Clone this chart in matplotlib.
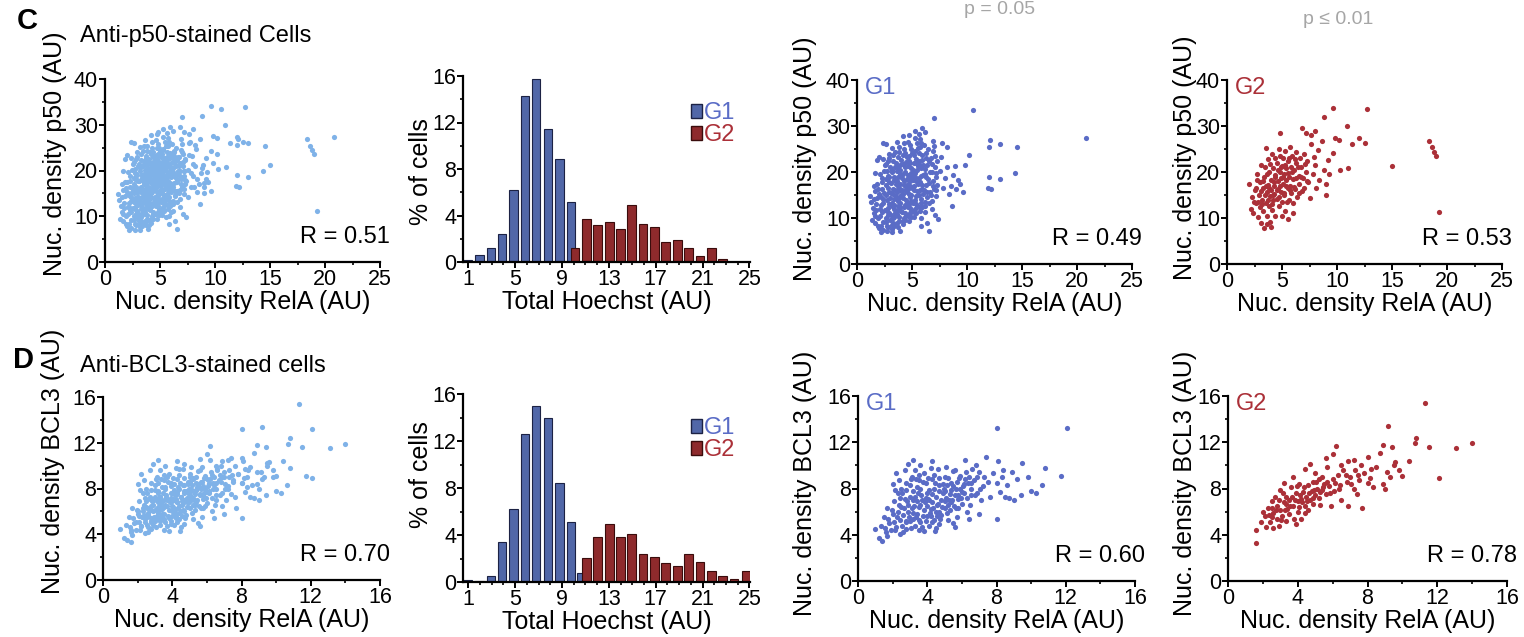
import numpy as np
import matplotlib
matplotlib.use("Agg")
import matplotlib.pyplot as plt
from matplotlib.patches import Patch
from matplotlib.ticker import MultipleLocator

plt.rcParams['font.family'] = ['Liberation Sans', 'DejaVu Sans']

# ---- colours
ALL_C = '#7fb2e8'
G1_C = '#5a6cc6'
G2_C = '#ab3038'
BAR_G1 = '#5167a8'
BAR_G2 = '#8e2a2c'

# ---- row C: p50 vs RelA, single cells (x = RelA, y = p50)
p50_g1 = [
    (1.3, 13.5), (1.5, 11), (1.6, 15.8), (1.4, 9.5), (1.7, 13), (1.8, 17.5), (1.2, 14.8), (1.9, 8.2), (1.6, 10.4),
    (2.0, 7.8), (2.1, 10.5), (2.2, 12.8), (2.0, 15.2), (2.3, 17.8), (2.1, 19.6), (2.4, 9.1), (2.4, 14.1),
    (2.5, 21.5), (2.2, 6.9), (2.5, 11.7), (2.3, 16.3), (2.0, 23.3),
    (2.7, 8.3), (2.6, 10.0), (2.8, 12.2), (2.7, 13.9), (2.9, 15.6), (2.6, 17.1), (2.8, 19.2), (3.0, 21.0),
    (2.9, 24.0), (2.7, 7.1), (3.0, 9.6), (2.9, 11.1), (2.6, 18.4), (3.0, 14.3), (2.8, 22.5), (2.6, 26.0),
    (3.2, 7.6), (3.3, 9.0), (3.1, 10.6), (3.4, 12.0), (3.2, 13.3), (3.5, 14.8), (3.3, 16.2), (3.1, 17.7),
    (3.4, 19.0), (3.2, 20.5), (3.5, 22.0), (3.3, 23.6), (3.4, 8.3), (3.5, 11.2), (3.1, 15.5), (3.5, 17.4),
    (3.2, 25.2), (3.4, 10.2),
    (3.7, 8.0), (3.8, 9.4), (3.6, 10.9), (3.9, 12.4), (3.7, 13.6), (4.0, 15.0), (3.8, 16.6), (3.6, 18.1),
    (3.9, 19.5), (3.7, 21.1), (4.0, 22.6), (3.8, 24.3), (3.9, 7.2), (3.6, 14.4), (4.0, 11.6), (3.7, 17.0),
    (3.9, 20.4), (3.6, 26.6),
    (4.2, 8.6), (4.3, 10.1), (4.1, 11.4), (4.4, 12.9), (4.2, 14.3), (4.5, 15.7), (4.3, 17.2), (4.1, 18.7),
    (4.4, 20.1), (4.2, 21.7), (4.5, 23.2), (4.3, 25.0), (4.4, 9.5), (4.1, 16.1), (4.5, 18.4), (4.2, 27.8),
    (4.5, 13.5),
    (4.7, 9.3), (4.8, 11.0), (4.6, 12.3), (4.9, 13.8), (4.7, 15.2), (5.0, 16.6), (4.8, 18.0), (4.6, 19.4),
    (4.9, 20.9), (4.7, 22.5), (5.0, 24.2), (4.8, 25.9), (4.9, 10.2), (4.6, 17.3), (5.0, 19.1), (4.8, 14.6),
    (4.7, 28.0),
    (5.2, 10.3), (5.3, 12.0), (5.1, 13.2), (5.4, 14.7), (5.2, 16.0), (5.5, 17.5), (5.3, 19.0), (5.1, 20.5),
    (5.4, 22.0), (5.2, 23.6), (5.5, 25.3), (5.3, 27.4), (5.4, 11.1), (5.1, 18.2), (5.5, 21.2), (5.3, 29.0),
    (5.7, 11.5), (5.8, 13.3), (5.6, 14.9), (5.9, 16.4), (5.7, 17.8), (6.0, 19.3), (5.8, 20.8), (5.6, 22.3),
    (5.9, 23.8), (5.7, 25.4), (6.0, 15.2), (5.8, 10.0), (5.6, 28.2), (6.0, 21.6),
    (6.2, 12.6), (6.4, 14.5), (6.1, 16.1), (6.5, 17.6), (6.3, 19.0), (6.2, 20.6), (6.5, 22.4), (6.3, 24.1),
    (6.1, 25.8), (6.6, 15.6), (6.4, 9.0), (6.6, 20.0),
    (6.8, 13.8), (7.0, 16.2), (6.9, 18.1), (7.2, 19.8), (6.8, 21.7), (7.1, 23.5), (7.0, 25.7), (7.3, 17.1),
    (6.9, 26.8), (7.2, 14.8), (7.0, 31.8),
    (7.5, 20.2), (7.8, 16.5), (8.0, 18.8), (7.6, 23.3), (8.2, 21.0), (8.5, 17.0), (8.7, 19.4), (9.0, 16.3),
    (9.2, 18.2), (8.4, 15.2), (8.9, 21.3), (7.7, 26.3), (8.2, 25.5), (8.6, 12.7), (7.4, 9.8), (6.5, 7.2),
    (7.1, 10.6), (9.4, 17.4), (9.6, 15.6), (9.8, 21.6), (10.2, 23.6), (10.5, 33.5), (12.0, 25.5), (12.1, 26.9),
    (13.0, 26.0), (14.5, 25.4), (12.0, 19.0), (13.0, 18.5), (14.4, 19.8), (11.9, 16.6), (12.2, 16.4),
    (20.8, 27.3), (5.8, 8.3), (1.6, 19.8), (1.8, 22.6), (2.4, 26.2), (6.2, 28.7), (5.9, 29.5),
    # dense core
    (1.45, 12.2), (1.55, 14.2), (1.75, 11.8), (1.85, 14.4), (1.9, 16.2), (1.65, 9.0), (1.95, 10.0), (1.5, 17.0),
    (2.15, 8.3), (2.25, 11.3), (2.35, 13.3), (2.15, 14.6), (2.45, 15.4), (2.25, 18.7), (2.45, 20.2), (2.35, 7.5),
    (2.05, 12.0), (2.4, 22.8),
    (2.65, 9.2), (2.85, 10.6), (2.75, 11.6), (2.95, 13.1), (2.65, 15.0), (2.85, 16.5), (2.95, 17.9), (2.75, 20.3),
    (2.95, 19.0), (2.65, 21.8), (2.85, 8.0), (2.95, 23.0),
    (3.15, 8.4), (3.25, 9.9), (3.45, 11.0), (3.15, 12.7), (3.35, 14.1), (3.25, 15.3), (3.45, 16.0), (3.35, 18.3),
    (3.15, 19.9), (3.45, 21.1), (3.25, 22.4), (3.45, 24.3), (3.35, 12.8), (3.15, 6.9),
    (3.65, 9.0), (3.85, 10.2), (3.75, 11.8), (3.95, 13.3), (3.65, 15.6), (3.85, 14.4), (3.95, 17.5), (3.75, 18.9),
    (3.65, 20.2), (3.95, 21.5), (3.75, 23.2), (3.85, 25.4), (3.95, 16.1), (3.75, 12.6),
    (4.15, 9.3), (4.35, 11.0), (4.25, 12.3), (4.45, 14.0), (4.15, 15.2), (4.35, 16.1), (4.45, 17.0), (4.25, 18.0),
    (4.15, 19.6), (4.35, 21.0), (4.45, 22.1), (4.15, 23.7), (4.35, 24.1), (4.25, 26.2), (4.45, 10.6),
    (4.65, 10.5), (4.85, 12.2), (4.75, 13.0), (4.95, 14.9), (4.65, 16.3), (4.85, 16.9), (4.75, 18.8), (4.95, 19.8),
    (4.65, 21.4), (4.85, 22.0), (4.75, 23.4), (4.95, 25.0), (4.65, 26.6), (4.95, 11.6),
    (5.15, 11.2), (5.35, 13.0), (5.25, 14.0), (5.45, 15.9), (5.15, 17.0), (5.35, 18.0), (5.25, 19.8), (5.45, 20.4),
    (5.15, 21.9), (5.35, 22.8), (5.25, 24.6), (5.45, 26.2), (5.45, 12.6),
    (5.65, 12.4), (5.85, 14.1), (5.75, 16.1), (5.95, 17.2), (5.65, 18.6), (5.85, 19.2), (5.75, 21.5), (5.95, 22.7),
    (5.65, 24.1), (5.85, 26.3), (5.95, 12.3), (5.75, 27.2),
    (6.15, 13.4), (6.35, 15.6), (6.25, 17.2), (6.45, 18.4), (6.15, 19.6), (6.35, 21.5), (6.25, 23.1), (6.45, 25.0),
    (6.55, 13.2), (6.15, 11.2),
    (6.75, 15.0), (6.95, 17.0), (7.15, 18.9), (6.85, 19.9), (7.05, 21.0), (6.75, 23.0), (7.25, 22.3), (6.95, 24.5),
    (7.15, 16.0), (6.85, 12.0),
]

p50_g2 = [
    (2.0, 17.5), (2.2, 12.0), (2.3, 14.5), (2.4, 11.0), (2.5, 16.0), (2.6, 13.2), (2.7, 19.5), (2.8, 10.2),
    (2.9, 15.0), (3.0, 12.4), (3.0, 17.8), (3.1, 9.0), (3.1, 21.5), (3.2, 14.0), (3.3, 16.5), (3.3, 11.5),
    (3.4, 7.8), (3.4, 19.0), (3.5, 13.3), (3.5, 25.3), (3.6, 15.7), (3.6, 10.5), (3.7, 17.2), (3.7, 22.8),
    (3.8, 12.6), (3.8, 20.0), (3.9, 14.8), (3.9, 9.2), (4.0, 18.3), (4.0, 16.0), (4.1, 24.0), (4.1, 11.8),
    (4.2, 13.9), (4.2, 20.8), (4.3, 17.0), (4.3, 15.2), (4.4, 19.3), (4.4, 10.4), (4.5, 22.0), (4.5, 14.2),
    (4.6, 18.0), (4.6, 16.4), (4.7, 12.6), (4.7, 25.0), (4.8, 20.0), (4.8, 28.5), (4.9, 15.6), (4.9, 18.8),
    (5.0, 21.4), (5.0, 13.4), (5.1, 17.5), (5.1, 23.0), (5.2, 19.5), (5.2, 15.0), (5.3, 11.5), (5.3, 24.5),
    (5.4, 18.2), (5.4, 20.8), (5.5, 16.5), (5.5, 22.3), (5.6, 14.0), (5.6, 19.0), (5.7, 25.5), (5.7, 17.0),
    (5.8, 21.0), (5.8, 15.5), (5.9, 23.5), (6.0, 18.5), (6.0, 13.2), (6.1, 20.5), (6.2, 16.3), (6.3, 22.0),
    (6.3, 24.3), (6.4, 14.6), (6.5, 19.2), (6.5, 17.4), (6.6, 23.0), (6.7, 21.0), (6.8, 15.8), (6.9, 18.6),
    (7.0, 24.0), (7.0, 16.5), (7.2, 20.0), (7.3, 22.5), (7.4, 17.8), (7.5, 14.3), (7.6, 26.0), (7.8, 19.5),
    (7.9, 23.2), (8.0, 21.5), (8.1, 16.5), (8.3, 24.8), (8.4, 18.2), (8.6, 26.8), (8.8, 20.5), (9.0, 17.3),
    (9.0, 15.0), (9.2, 22.7), (9.3, 19.6), (9.6, 24.2), (9.8, 27.5),
    (5.0, 10.5), (5.5, 9.8), (4.0, 8.0), (3.6, 8.6), (6.0, 11.0), (7.2, 28.5), (8.0, 29.0), (8.8, 32.0),
    (9.6, 34.0), (10.9, 30.0), (10.2, 27.0), (11.4, 26.0), (12.0, 27.3), (12.5, 26.2), (12.7, 33.8),
    (10.3, 20.4), (11.0, 20.8), (15.0, 21.3), (18.4, 26.8), (18.6, 25.4), (18.8, 24.4), (19.0, 23.5),
    (19.3, 11.2), (7.6, 28.0), (6.8, 29.5),
    (3.15, 13.0), (3.45, 15.0), (3.25, 18.0), (3.55, 17.0), (3.45, 21.0), (3.75, 14.0), (3.85, 16.5), (3.65, 19.5),
    (3.95, 21.8), (4.05, 13.0), (4.15, 15.0), (4.25, 17.8), (4.35, 19.0), (4.35, 23.0), (4.55, 16.0), (4.65, 20.5),
    (4.75, 14.5), (4.85, 17.0), (4.95, 21.0), (4.85, 23.5), (5.05, 19.0), (5.15, 15.5), (5.25, 21.5), (5.35, 17.0),
    (5.45, 13.5), (5.55, 19.8), (5.65, 23.0), (5.75, 16.0), (5.95, 20.0), (6.05, 16.8), (6.15, 22.8), (6.25, 18.8),
    (6.45, 21.0), (6.55, 15.5), (6.75, 19.0), (7.05, 21.8), (7.25, 18.0), (2.65, 16.5), (2.85, 13.5), (3.05, 15.8),
    (2.45, 13.5), (2.75, 18.2),
]

# ---- row D: BCL3 vs RelA
bcl3_g1 = [
    (1.0, 4.5), (1.2, 3.7), (1.4, 3.5), (1.3, 4.8), (1.5, 5.5), (1.6, 4.2), (1.7, 6.3), (1.8, 5.0), (1.9, 4.4),
    (1.7, 3.9), (2.0, 5.8), (2.1, 6.9), (2.2, 4.7), (2.3, 7.6), (2.4, 5.3), (2.0, 8.4), (2.5, 6.4), (2.2, 9.3),
    (2.4, 4.1), (2.1, 5.1), (2.3, 6.0), (2.5, 8.0),
    (2.6, 5.7), (2.7, 7.1), (2.8, 4.5), (2.9, 6.6), (3.0, 8.3), (2.7, 9.6), (2.6, 4.2), (3.0, 5.2), (2.8, 7.9),
    (2.9, 6.0), (3.0, 7.3), (2.8, 5.1),
    (3.1, 6.3), (3.2, 7.8), (3.3, 4.8), (3.4, 5.8), (3.5, 8.7), (3.2, 10.5), (3.1, 9.0), (3.4, 6.9), (3.5, 4.4),
    (3.3, 7.3), (3.2, 5.4), (3.5, 6.4), (3.4, 8.1), (3.3, 9.6),
    (3.6, 5.1), (3.7, 7.0), (3.8, 6.1), (3.9, 8.5), (4.0, 7.6), (3.7, 4.7), (3.8, 9.3), (3.6, 6.6), (4.0, 5.6),
    (3.9, 7.2), (3.6, 8.0), (4.0, 6.5), (3.8, 4.3),
    (4.1, 7.9), (4.2, 6.2), (4.3, 8.8), (4.4, 5.3), (4.5, 7.3), (4.2, 9.8), (4.1, 4.8), (4.3, 6.8), (4.4, 8.0),
    (4.5, 6.0), (4.2, 5.6), (4.4, 9.2), (4.5, 4.6), (4.1, 7.0),
    (4.6, 6.7), (4.7, 8.3), (4.8, 5.7), (4.9, 7.6), (5.0, 9.0), (4.7, 4.9), (4.8, 7.0), (4.6, 9.7), (5.0, 6.3),
    (4.9, 8.4), (4.7, 6.0), (5.0, 7.8),
    (5.1, 7.2), (5.2, 8.9), (5.3, 6.1), (5.4, 7.9), (5.5, 9.5), (5.2, 5.3), (5.4, 6.8), (5.1, 9.9), (5.5, 8.2),
    (5.3, 7.5), (5.5, 5.0), (5.2, 6.6),
    (5.6, 7.4), (5.7, 8.6), (5.8, 6.3), (5.9, 9.1), (6.0, 7.7), (5.7, 5.5), (5.9, 8.0), (5.6, 9.6), (6.0, 6.7),
    (5.8, 7.1),
    (6.1, 8.4), (6.2, 10.5), (6.3, 7.2), (6.4, 9.0), (6.5, 8.0), (6.3, 6.0), (6.6, 9.7), (6.2, 8.8), (6.5, 7.4),
    (6.7, 8.7), (6.9, 7.6), (7.0, 9.4), (7.2, 8.2), (7.4, 10.7), (7.1, 7.0), (7.3, 9.0), (7.5, 8.6), (6.8, 10.0),
    (7.6, 7.3), (7.8, 9.3), (8.0, 8.5), (8.1, 10.4), (8.2, 7.7), (8.0, 13.2), (8.4, 9.6), (8.6, 8.3), (8.3, 9.0),
    (8.0, 5.4), (8.7, 7.2), (8.9, 9.4), (9.2, 8.8), (9.5, 10.2), (9.0, 7.0), (9.4, 7.4), (10.0, 7.8), (10.3, 7.6),
    (10.6, 8.3), (10.8, 9.8), (11.7, 9.1), (12.1, 13.2), (9.8, 9.0), (8.5, 7.3), (7.0, 5.8), (6.4, 5.4),
    (5.6, 4.7), (4.3, 10.4), (2.9, 10.1), (3.6, 10.0),
    # dense core
    (1.55, 4.6), (1.75, 5.4), (1.95, 6.1), (2.15, 4.4), (2.25, 5.5), (2.35, 6.6), (2.45, 7.2), (2.15, 7.9),
    (2.55, 4.8), (2.65, 6.3), (2.75, 5.2), (2.85, 6.9), (2.95, 5.5), (2.75, 8.5), (2.55, 7.6), (3.05, 4.6),
    (3.15, 5.9), (3.25, 6.5), (3.35, 5.5), (3.45, 7.6), (3.15, 7.0), (3.05, 8.8), (3.55, 5.3), (3.65, 7.4),
    (3.75, 5.6), (3.85, 6.8), (3.95, 5.2), (3.75, 8.6), (3.55, 9.2), (4.05, 7.1), (4.15, 5.9), (4.25, 7.5),
    (4.35, 6.3), (4.45, 8.5), (4.05, 8.9), (4.25, 5.1), (4.55, 6.6), (4.65, 7.8), (4.75, 5.4), (4.85, 6.4),
    (4.95, 8.0), (4.65, 8.9), (4.55, 5.6), (5.05, 6.9), (5.15, 8.3), (5.25, 7.0), (5.35, 8.5), (5.45, 7.0),
    (5.15, 5.9), (5.55, 6.5), (5.65, 8.0), (5.75, 7.4), (5.85, 8.9), (5.95, 7.2), (5.65, 6.3), (6.05, 8.2),
    (6.15, 7.6), (6.35, 8.5), (6.45, 6.6), (6.25, 9.4), (6.55, 8.5), (6.75, 7.4), (6.85, 9.0), (7.05, 8.0),
    (3.35, 8.8), (2.35, 8.7), (4.45, 4.3),
]

bcl3_g2 = [
    (1.6, 3.3), (1.6, 4.4), (1.9, 5.1), (2.1, 5.6), (2.2, 4.7), (2.3, 6.3), (2.4, 5.1), (2.5, 6.9), (2.6, 4.6),
    (2.6, 5.9), (2.7, 7.3), (2.8, 5.4), (2.8, 6.5), (2.9, 4.8), (3.0, 6.1), (3.0, 7.9), (3.1, 5.6), (3.2, 6.8),
    (3.2, 8.5), (3.3, 5.2), (3.3, 7.3), (3.4, 6.2), (3.5, 7.0), (3.5, 5.8), (3.6, 8.1), (3.7, 6.5), (3.7, 9.0),
    (3.8, 5.4), (3.9, 7.6), (4.0, 6.9), (4.0, 6.0), (4.1, 8.4), (4.2, 7.1), (4.2, 5.4), (4.3, 7.7), (4.4, 6.5),
    (4.4, 9.7), (4.5, 7.3), (4.6, 8.3), (4.6, 6.1), (4.7, 10.1), (4.7, 7.0), (4.8, 7.8), (4.9, 6.7), (4.9, 8.6),
    (5.0, 7.4), (5.0, 9.3), (5.1, 8.0), (5.2, 7.2), (5.2, 8.8), (5.3, 6.6), (5.4, 7.9), (5.4, 9.0), (5.5, 8.4),
    (5.6, 7.5), (5.7, 9.9), (5.8, 8.2), (5.9, 6.5), (6.0, 8.8), (6.0, 11.0), (6.1, 7.8), (6.2, 11.7), (6.3, 9.2),
    (6.4, 8.3), (6.5, 10.0), (6.5, 7.0), (6.6, 9.6), (6.8, 8.6), (6.9, 10.4), (6.9, 6.5), (7.0, 9.0), (7.2, 8.0),
    (7.2, 10.5), (7.3, 9.6), (7.4, 7.5), (7.5, 8.7), (7.6, 10.0), (7.7, 6.3), (7.8, 9.3), (8.0, 8.5), (8.0, 10.7),
    (8.2, 9.7), (8.3, 8.1), (8.5, 9.9), (8.7, 11.1), (8.9, 8.4), (8.9, 11.8), (9.0, 8.0), (9.1, 9.4), (9.2, 13.4),
    (9.3, 9.0), (9.4, 11.6), (9.5, 10.0), (9.6, 10.3), (9.8, 9.6), (10.0, 9.1), (10.4, 10.4), (10.7, 11.9),
    (10.8, 12.4), (11.3, 15.4), (11.5, 11.6), (12.1, 8.9), (13.1, 11.5), (14.0, 11.9), (3.9, 4.9), (2.0, 6.0),
    (5.6, 10.6), (4.4, 5.9),
    (2.35, 5.7), (2.55, 5.5), (2.75, 6.1), (2.95, 7.0), (3.05, 5.3), (3.15, 7.6), (3.35, 6.7), (3.55, 6.5),
    (3.65, 7.3), (3.85, 7.0), (3.95, 8.2), (4.05, 6.4), (4.25, 6.8), (4.35, 8.1), (4.55, 6.9), (4.65, 7.6),
    (4.85, 7.2), (4.95, 7.9), (5.05, 8.6), (5.25, 7.7), (5.45, 8.1), (5.65, 8.6), (5.85, 7.6), (6.15, 8.5),
    (6.35, 8.0), (6.75, 9.2), (7.05, 8.4), (7.45, 9.2), (8.15, 8.9), (2.55, 6.3), (3.25, 6.1), (4.15, 7.4),
]

r_p50 = [0.51, 0.49, 0.53]
r_bcl3 = [0.70, 0.60, 0.78]

# ---- Hoechst histograms (% of cells per bin)
hoechst_g1_bins = [0.95, 1.95, 2.95, 3.9, 4.85, 5.85, 6.8, 7.8, 8.8, 9.75]
hoechst_g2_bins = [10.1, 11.1, 12.05, 13.05, 14.0, 14.95, 15.9, 16.9, 17.85, 18.85, 19.8, 20.8, 21.75, 22.7]
hist_p50_g1 = [0.2, 0.64, 1.24, 2.39, 6.2, 14.3, 15.7, 11.4, 8.9, 5.2]
hist_p50_g2 = [1.2, 3.7, 3.2, 3.4, 2.8, 4.9, 3.3, 3.0, 1.75, 1.85, 1.2, 0.55, 1.2, 0.25]

hoechst_g1_bins_d = [0.95, 1.95, 2.95, 3.9, 4.85, 5.85, 6.8, 7.8, 8.8, 9.75, 10.6]
hoechst_g2_bins_d = [11.1, 12.05, 13.05, 14.0, 14.95, 15.9, 16.9, 17.85, 18.85, 19.8, 20.8, 21.75, 22.7, 23.7, 24.7]
hist_bcl3_g1 = [0.2, 0.08, 0.55, 3.4, 6.25, 12.6, 15.0, 14.0, 8.4, 5.1, 0.8]
hist_bcl3_g2 = [2.07, 3.84, 4.92, 3.84, 4.12, 2.42, 2.13, 1.62, 1.34, 2.42, 1.7, 0.94, 0.51, 0.28, 0.94]

W, H = 1524, 637
TICK_FS = 15.5
LABEL_FS = 18
fig = plt.figure(figsize=(W / 100, H / 100), dpi=100)


def add_axes(left, right, top, bottom):
    # box given in pixels from the top-left corner
    return fig.add_axes([left / W, 1 - bottom / H, (right - left) / W, (bottom - top) / H])


def style_axes(ax, major_x, minor_x, major_y, minor_y):
    for s in ['top', 'right']:
        ax.spines[s].set_visible(False)
    for s in ['left', 'bottom']:
        ax.spines[s].set_linewidth(1.6)
    ax.xaxis.set_major_locator(MultipleLocator(major_x))
    ax.xaxis.set_minor_locator(MultipleLocator(minor_x))
    ax.yaxis.set_major_locator(MultipleLocator(major_y))
    ax.yaxis.set_minor_locator(MultipleLocator(minor_y))
    ax.tick_params(which='major', direction='out', length=4, width=1.4, labelsize=TICK_FS, pad=1)
    ax.tick_params(which='minor', direction='out', length=2.5, width=1.2)


def scatter_panel(ax, groups, colors, lim, r, ylabel, ylab_pos, tag=None, tag_color=None):
    for pts, col in zip(groups, colors):
        a = np.array(pts)
        ax.scatter(a[:, 0], a[:, 1], s=14, color=col, linewidths=0)
    ax.set_xlim(0, lim)
    if lim == 16:
        ax.set_ylim(0, 16)
        style_axes(ax, 4, 2, 4, 2)
    else:
        ax.set_ylim(0, 40)
        style_axes(ax, 5, 2.5, 10, 5)
    ax.set_xlabel('Nuc. density RelA (AU)', fontsize=LABEL_FS, labelpad=0)
    ax.set_ylabel(ylabel, fontsize=LABEL_FS)
    ax.yaxis.set_label_coords(*ylab_pos)
    ax.text(1.035, 0.135, 'R = %.2f' % r, transform=ax.transAxes, ha='right', va='center', fontsize=17)
    if tag:
        ax.text(0.03, 0.955, tag, transform=ax.transAxes, ha='left', va='center', fontsize=17, color=tag_color)


def hist_panel(ax, g1_x, g1_y, g2_x, g2_y, ylab_pos, leg_y):
    ax.bar(g1_x, g1_y, width=0.72, color=BAR_G1, edgecolor='#1c2244', linewidth=0.8)
    ax.bar(g2_x, g2_y, width=0.72, color=BAR_G2, edgecolor='#3a0c0c', linewidth=0.8)
    ax.set_xlim(0.55, 25.05)
    ax.set_ylim(0, 16)
    style_axes(ax, 4, 1, 4, 2)
    ax.set_xticks([1, 5, 9, 13, 17, 21, 25])
    ax.set_xlabel('Total Hoechst (AU)', fontsize=LABEL_FS, labelpad=0)
    ax.set_ylabel('% of cells', fontsize=LABEL_FS)
    ax.yaxis.set_label_coords(*ylab_pos)
    handles = [Patch(facecolor=BAR_G1, edgecolor='#1c2244'), Patch(facecolor=BAR_G2, edgecolor='#3a0c0c')]
    leg = ax.legend(handles, ['G1', 'G2'], loc='center left', bbox_to_anchor=(0.795, leg_y), frameon=False,
                    fontsize=17, handlelength=0.45, handleheight=0.55, handletextpad=0.1, labelspacing=0.0,
                    borderpad=0, borderaxespad=0)
    for t, c in zip(leg.get_texts(), [G1_C, G2_C]):
        t.set_color(c)


# row C
ax = add_axes(105, 380, 79, 262)
scatter_panel(ax, [p50_g1, p50_g2], [ALL_C, ALL_C], 25, r_p50[0], 'Nuc. density p50 (AU)', (-0.138, 0.59))
ax = add_axes(463, 750, 76, 262)
hist_panel(ax, hoechst_g1_bins, hist_p50_g1, hoechst_g2_bins, hist_p50_g2, (-0.105, 0.484), 0.74)
ax = add_axes(857, 1132, 80, 264)
scatter_panel(ax, [p50_g1], [G1_C], 25, r_p50[1], 'Nuc. density p50 (AU)', (-0.145, 0.57), 'G1', G1_C)
ax = add_axes(1227, 1502, 80, 264)
scatter_panel(ax, [p50_g2], [G2_C], 25, r_p50[2], 'Nuc. density p50 (AU)', (-0.109, 0.576), 'G2', G2_C)

# row D
ax = add_axes(103, 380, 397, 580)
scatter_panel(ax, [bcl3_g1, bcl3_g2], [ALL_C, ALL_C], 16, r_bcl3[0], 'Nuc. density BCL3 (AU)', (-0.137, 0.65))
ax = add_axes(463, 750, 394, 582)
hist_panel(ax, hoechst_g1_bins_d, hist_bcl3_g1, hoechst_g2_bins_d, hist_bcl3_g2, (-0.105, 0.57), 0.76)
ax = add_axes(858, 1135, 396, 581)
scatter_panel(ax, [bcl3_g1], [G1_C], 16, r_bcl3[1], 'Nuc. density BCL3 (AU)', (-0.148, 0.53), 'G1', G1_C)
ax = add_axes(1228, 1507, 396, 581)
scatter_panel(ax, [bcl3_g2], [G2_C], 16, r_bcl3[2], 'Nuc. density BCL3 (AU)', (-0.111, 0.53), 'G2', G2_C)

# panel letters, titles and p-values
fig.text(17 / W, 1 - 21 / H, 'C', fontsize=21, fontweight='bold', va='center', ha='left')
fig.text(80 / W, 1 - 36 / H, 'Anti-p50-stained Cells', fontsize=17, va='center', ha='left')
fig.text(13 / W, 1 - 360 / H, 'D', fontsize=21, fontweight='bold', va='center', ha='left')
fig.text(80 / W, 1 - 366 / H, 'Anti-BCL3-stained cells', fontsize=17, va='center', ha='left')
fig.text(1000 / W, 1 - 9 / H, 'p = 0.05', fontsize=14, color='#a6a6a6', va='center', ha='center')
fig.text(1338 / W, 1 - 20 / H, 'p \u2264 0.01', fontsize=14, color='#a6a6a6', va='center', ha='center')

fig.savefig('out.png', dpi=100)
